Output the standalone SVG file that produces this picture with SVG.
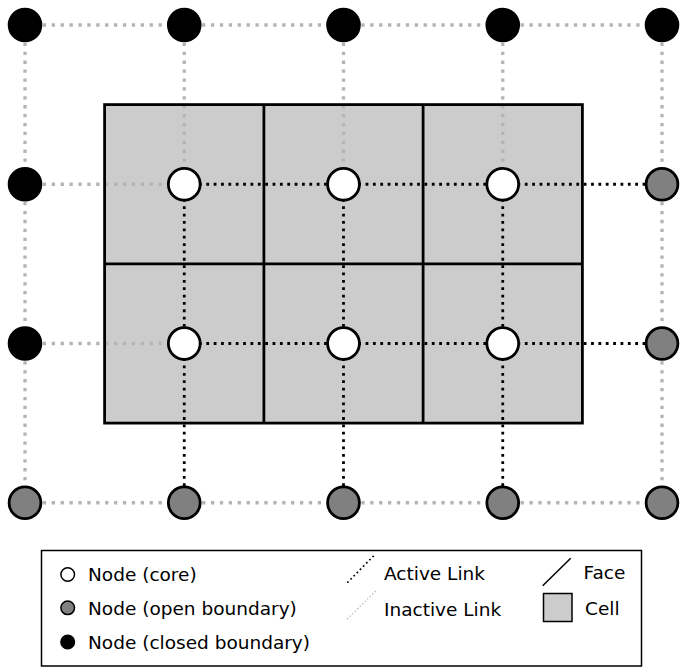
<svg xmlns="http://www.w3.org/2000/svg" width="687" height="668" viewBox="0 0 687 668">
<style>
.bg{fill:#ffffff}
.cell{fill:#cccccc;stroke:none}
.face{stroke:#000;stroke-width:2.78;fill:none}
.active{stroke:#000;stroke-width:2.78;stroke-dasharray:2.78 4.58;fill:none}
.inactive{stroke:#b4b4b4;stroke-width:3.3;stroke-dasharray:3.3 5.6;fill:none}
.node{stroke:#000;stroke-width:2.78}
.core{fill:#ffffff}
.open{fill:#808080}
.closed{fill:#000000}
.lg-node{stroke:#000;stroke-width:1.5}
.label{font-family:"DejaVu Sans","Liberation Sans",sans-serif;font-size:18.5px;fill:#000}
</style>
<rect class="bg" x="0" y="0" width="687" height="668"/>
<g id="cells">
<rect class="cell" x="104.6" y="104.6" width="477.8" height="318.5"/>
</g>
<g id="connectors">
<g id="inactive-links">
<line class="inactive" x1="25" y1="25" x2="184.25" y2="25"/>
<line class="inactive" x1="184.25" y1="25" x2="343.5" y2="25"/>
<line class="inactive" x1="343.5" y1="25" x2="502.75" y2="25"/>
<line class="inactive" x1="502.75" y1="25" x2="662" y2="25"/>
<line class="inactive" x1="25" y1="25" x2="25" y2="184.25"/>
<line class="inactive" x1="184.25" y1="25" x2="184.25" y2="184.25"/>
<line class="inactive" x1="343.5" y1="25" x2="343.5" y2="184.25"/>
<line class="inactive" x1="502.75" y1="25" x2="502.75" y2="184.25"/>
<line class="inactive" x1="662" y1="25" x2="662" y2="184.25"/>
<line class="inactive" x1="25" y1="184.25" x2="184.25" y2="184.25"/>
<line class="inactive" x1="25" y1="184.25" x2="25" y2="343.5"/>
<line class="inactive" x1="662" y1="184.25" x2="662" y2="343.5"/>
<line class="inactive" x1="25" y1="343.5" x2="184.25" y2="343.5"/>
<line class="inactive" x1="25" y1="343.5" x2="25" y2="502.75"/>
<line class="inactive" x1="662" y1="343.5" x2="662" y2="502.75"/>
<line class="inactive" x1="25" y1="502.75" x2="184.25" y2="502.75"/>
<line class="inactive" x1="184.25" y1="502.75" x2="343.5" y2="502.75"/>
<line class="inactive" x1="343.5" y1="502.75" x2="502.75" y2="502.75"/>
<line class="inactive" x1="502.75" y1="502.75" x2="662" y2="502.75"/>
</g>
<g id="active-links">
<line class="active" x1="184.25" y1="184.25" x2="343.5" y2="184.25"/>
<line class="active" x1="343.5" y1="184.25" x2="502.75" y2="184.25"/>
<line class="active" x1="502.75" y1="184.25" x2="662" y2="184.25"/>
<line class="active" x1="184.25" y1="343.5" x2="343.5" y2="343.5"/>
<line class="active" x1="343.5" y1="343.5" x2="502.75" y2="343.5"/>
<line class="active" x1="502.75" y1="343.5" x2="662" y2="343.5"/>
<line class="active" x1="184.25" y1="184.25" x2="184.25" y2="343.5"/>
<line class="active" x1="343.5" y1="184.25" x2="343.5" y2="343.5"/>
<line class="active" x1="502.75" y1="184.25" x2="502.75" y2="343.5"/>
<line class="active" x1="184.25" y1="343.5" x2="184.25" y2="502.75"/>
<line class="active" x1="343.5" y1="343.5" x2="343.5" y2="502.75"/>
<line class="active" x1="502.75" y1="343.5" x2="502.75" y2="502.75"/>
</g>
</g>
<g id="faces">
<rect class="face" x="104.6" y="104.6" width="477.8" height="318.5"/>
<line class="face" x1="263.9" y1="104.6" x2="263.9" y2="423.1"/>
<line class="face" x1="423.1" y1="104.6" x2="423.1" y2="423.1"/>
<line class="face" x1="104.6" y1="263.9" x2="582.4" y2="263.9"/>
</g>
<g id="nodes">
<g id="node-0-0"><circle class="node closed" cx="25" cy="25" r="15.9"/></g>
<g id="node-1-0"><circle class="node closed" cx="184.25" cy="25" r="15.9"/></g>
<g id="node-2-0"><circle class="node closed" cx="343.5" cy="25" r="15.9"/></g>
<g id="node-3-0"><circle class="node closed" cx="502.75" cy="25" r="15.9"/></g>
<g id="node-4-0"><circle class="node closed" cx="662" cy="25" r="15.9"/></g>
<g id="node-0-1"><circle class="node closed" cx="25" cy="184.25" r="15.9"/></g>
<g id="node-1-1"><circle class="node core" cx="184.25" cy="184.25" r="15.9"/></g>
<g id="node-2-1"><circle class="node core" cx="343.5" cy="184.25" r="15.9"/></g>
<g id="node-3-1"><circle class="node core" cx="502.75" cy="184.25" r="15.9"/></g>
<g id="node-4-1"><circle class="node open" cx="662" cy="184.25" r="15.9"/></g>
<g id="node-0-2"><circle class="node closed" cx="25" cy="343.5" r="15.9"/></g>
<g id="node-1-2"><circle class="node core" cx="184.25" cy="343.5" r="15.9"/></g>
<g id="node-2-2"><circle class="node core" cx="343.5" cy="343.5" r="15.9"/></g>
<g id="node-3-2"><circle class="node core" cx="502.75" cy="343.5" r="15.9"/></g>
<g id="node-4-2"><circle class="node open" cx="662" cy="343.5" r="15.9"/></g>
<g id="node-0-3"><circle class="node open" cx="25" cy="502.75" r="15.9"/></g>
<g id="node-1-3"><circle class="node open" cx="184.25" cy="502.75" r="15.9"/></g>
<g id="node-2-3"><circle class="node open" cx="343.5" cy="502.75" r="15.9"/></g>
<g id="node-3-3"><circle class="node open" cx="502.75" cy="502.75" r="15.9"/></g>
<g id="node-4-3"><circle class="node open" cx="662" cy="502.75" r="15.9"/></g>
</g>
<g id="legend">
<rect x="41.5" y="550.5" width="600" height="115.5" fill="#ffffff" stroke="#000" stroke-width="1.5"/>
<circle class="lg-node core" cx="67.7" cy="574.5" r="6.8"/>
<text class="label" x="88" y="580.5">Node (core)</text>
<circle class="lg-node open" cx="67.7" cy="607.8" r="6.8"/>
<text class="label" x="88" y="614.5">Node (open boundary)</text>
<circle class="lg-node closed" cx="67.7" cy="642" r="6.8"/>
<text class="label" x="88" y="649">Node (closed boundary)</text>
<line x1="347.3" y1="582.7" x2="374" y2="555.5" stroke="#000" stroke-width="1.7" stroke-dasharray="1.7 2.8"/>
<text class="label" x="384" y="579.5">Active Link</text>
<line x1="347.3" y1="619" x2="376" y2="590.7" stroke="#b4b4b4" stroke-width="1.3" stroke-dasharray="1.3 2.2"/>
<text class="label" x="384" y="615.5">Inactive Link</text>
<line x1="542.7" y1="585.7" x2="570.7" y2="558.3" stroke="#000" stroke-width="1.5"/>
<text class="label" x="583.5" y="578.5">Face</text>
<rect x="543.5" y="593.5" width="28.5" height="28" fill="#cccccc" stroke="#000" stroke-width="1.5"/>
<text class="label" x="585" y="614.5">Cell</text>
</g>
</svg>
